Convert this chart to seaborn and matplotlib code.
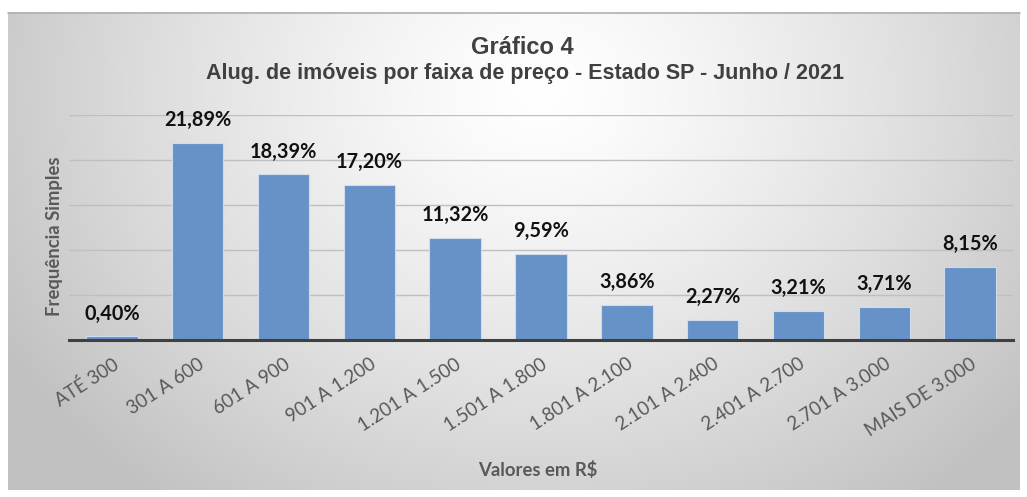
import numpy as np
import pandas as pd
import matplotlib
matplotlib.use("Agg")
import matplotlib.pyplot as plt
import seaborn as sns

categories = ["ATÉ 300", "301 A 600", "601 A 900", "901 A 1.200", "1.201 A 1.500",
              "1.501 A 1.800", "1.801 A 2.100", "2.101 A 2.400", "2.401 A 2.700",
              "2.701 A 3.000", "MAIS DE 3.000"]
values = [0.40, 21.89, 18.39, 17.20, 11.32, 9.59, 3.86, 2.27, 3.21, 3.71, 8.15]
labels = ["0,40%", "21,89%", "18,39%", "17,20%", "11,32%", "9,59%", "3,86%",
          "2,27%", "3,21%", "3,71%", "8,15%"]
title1 = "Gráfico 4"
title2 = "Alug. de imóveis por faixa de preço - Estado SP - Junho / 2021"
xlabel = "Valores em R$"
ylabel = "Frequência Simples"

sns.set_theme(style="white")
plt.rcParams['font.family'] = ['Lato', 'DejaVu Sans']

W, H = 1027, 497
fig = plt.figure(figsize=(W / 100, H / 100), dpi=100)
fig.patch.set_facecolor("white")

# background gradient panel
bg = fig.add_axes([0, 0, 1, 1], zorder=-5)
x0, y0, x1, y1 = 8, 12, 1020, 490
yy, xx = np.mgrid[y0:y1, x0:x1]
d = np.sqrt(((xx - 540) / 620.0) ** 2 + ((yy - 90) / 520.0) ** 2)
g = 255 - 62 * np.clip(d, 0, 1) ** 1.3
img = np.dstack([g, g, g]).astype(np.uint8)
bg.imshow(img, extent=[x0, x1, y1, y0], aspect="auto", interpolation="bilinear")
bg.plot([x0, x1], [y0 + 0.5, y0 + 0.5], color="#b0b0b0", lw=1.2)
bg.set_xlim(0, W)
bg.set_ylim(H, 0)
bg.axis("off")

ax = fig.add_axes([69 / W, 1 - 340 / H, (1013 - 69) / W, (340 - 115) / H])
ax.patch.set_alpha(0)
df = pd.DataFrame({"cat": categories, "val": values})
sns.barplot(data=df, x="cat", y="val", color="#6692c8", saturation=1, width=0.6,
            edgecolor="#cfdcee", linewidth=0.8, ax=ax, zorder=3)
ax.set_xlim(-0.5, len(categories) - 0.5)
ax.set_ylim(0, 25)
ax.set_yticks([0, 5, 10, 15, 20, 25])
ax.yaxis.grid(True, color="#bfbfbf", lw=1)
ax.set_axisbelow(True)
ax.tick_params(axis="y", left=False, labelleft=False)
ax.tick_params(axis="x", bottom=False, pad=5)
for s in ["top", "right", "left"]:
    ax.spines[s].set_visible(False)
ax.spines["bottom"].set_color("#404040")
ax.spines["bottom"].set_linewidth(2.2)
ax.spines["bottom"].set_zorder(4)

ax.set_xticks(range(len(categories)))
ax.set_xticklabels(categories, rotation=33, ha="right", rotation_mode="anchor",
                   fontsize=13.5, color="#595959")

for i, (v, lab) in enumerate(zip(values, labels)):
    ax.annotate(lab, (i, v), xytext=(0, 16.5), textcoords="offset points",
                ha="center", va="center", fontsize=14.3, fontweight="bold",
                color="#111111", annotation_clip=False)

ax.set_xlabel("")
ax.set_ylabel("")
fig.text(538 / W, 1 - 470 / H, xlabel, ha="center", va="center", fontsize=13.3,
         fontweight="bold", color="#595959")
fig.text(55 / W, 1 - 236 / H, ylabel, ha="center", va="center", rotation=90,
         fontsize=13.3, fontweight="bold", color="#595959")
fig.text(522 / W, 1 - 48 / H, title1, ha="center", va="center", fontsize=17,
         fontweight="bold", color="#404040", family=["Liberation Sans", "DejaVu Sans"])
fig.text(525 / W, 1 - 73 / H, title2, ha="center", va="center", fontsize=15.5,
         fontweight="bold", color="#404040", family=["Liberation Sans", "DejaVu Sans"])

fig.savefig("out.png", dpi=100)
